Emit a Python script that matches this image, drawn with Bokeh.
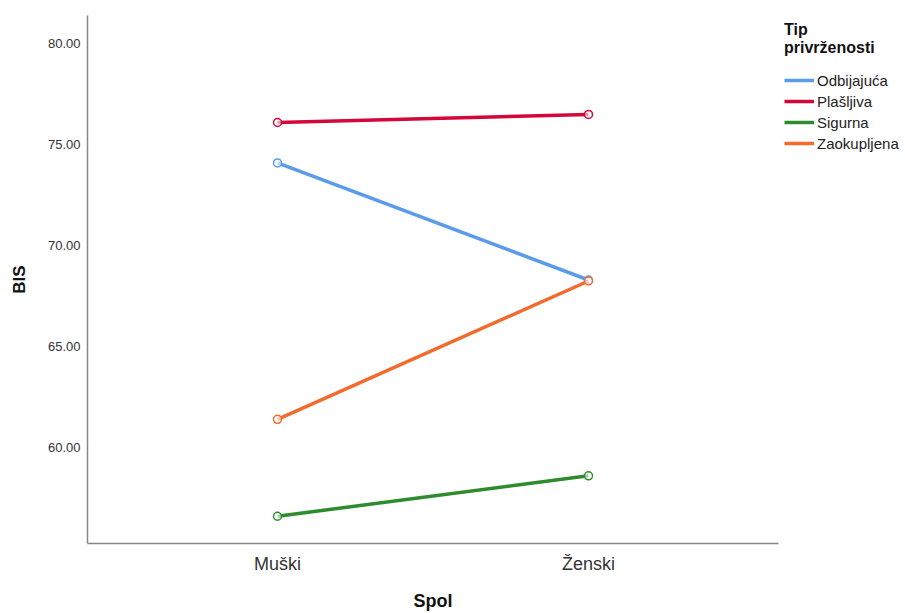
from bokeh.plotting import figure
from bokeh.models import FactorRange, Range1d, Legend, LegendItem, NumeralTickFormatter, FixedTicker
from bokeh.embed import file_html
from bokeh.resources import INLINE

categories = ["Muški", "Ženski"]
series_names = ["Odbijajuća", "Plašljiva", "Sigurna", "Zaokupljena"]
odbijajuca = [74.1, 68.3]
plasljiva = [76.1, 76.5]
sigurna = [56.6, 58.6]
zaokupljena = [61.4, 68.25]
y_ticks = [60, 65, 70, 75, 80]
colors = ["#5a9bea", "#d4063a", "#2e8b2e", "#f26b2c"]

p = figure(frame_width=691, frame_height=528, output_backend="svg", toolbar_location=None,
           x_range=FactorRange(factors=categories, range_padding=0.111, range_padding_units="absolute"),
           y_range=Range1d(55.25, 81.4),
           min_border_left=87, min_border_right=0, min_border_top=15, min_border_bottom=55)
p.outline_line_color = None
p.xgrid.visible = False
p.ygrid.visible = False

items = []
for name, vals, col in zip(series_names, [odbijajuca, plasljiva, sigurna, zaokupljena], colors):
    r = p.line(categories, vals, line_color=col, line_width=3.5)
    p.scatter(categories, vals, marker="circle", size=8, fill_color="white", fill_alpha=0.6,
              line_color=col, line_width=1.5)
    items.append(LegendItem(label=name, renderers=[r]))

legend = Legend(items=items, location="top_left", orientation="vertical",
                title="Tip\nprivrženosti",
                title_text_font="Liberation Sans", title_text_font_size="16px",
                title_text_font_style="bold", title_text_color="#111111", title_standoff=14,
                background_fill_alpha=0, border_line_color=None,
                label_text_font="Liberation Sans", label_text_font_size="15px",
                label_text_color="#222222", glyph_width=30, glyph_height=18,
                label_height=18, spacing=3, padding=0, margin=6, label_standoff=3)
p.add_layout(legend, "right")

ax = p.yaxis[0]
ax.ticker = FixedTicker(ticks=y_ticks)
ax.formatter = NumeralTickFormatter(format="0.00")
ax.axis_label = "BIS"
ax.axis_label_text_font = "Liberation Sans"
ax.axis_label_text_font_size = "17px"
ax.axis_label_text_font_style = "bold"
ax.axis_label_text_color = "#111111"
ax.major_label_text_font = "Liberation Sans"
ax.major_label_text_font_size = "13px"
ax.major_label_text_color = "#333333"
ax.major_tick_out = 0
ax.major_tick_in = 0
ax.minor_tick_out = 0
ax.minor_tick_in = 0
ax.axis_line_color = "#888888"
ax.axis_line_width = 1.5
ax.major_label_standoff = 7
ax.axis_label_standoff = 16

xa = p.xaxis[0]
xa.axis_label = "Spol"
xa.axis_label_text_font = "Liberation Sans"
xa.axis_label_text_font_size = "18px"
xa.axis_label_text_font_style = "bold"
xa.axis_label_text_color = "#111111"
xa.major_label_text_font = "Liberation Sans"
xa.major_label_text_font_size = "18px"
xa.major_label_text_color = "#333333"
xa.major_tick_out = 0
xa.major_tick_in = 0
xa.axis_line_color = "#888888"
xa.axis_line_width = 1.5
xa.major_label_standoff = 10
xa.axis_label_standoff = 14

open("out.html", "w").write(file_html(p, INLINE))
